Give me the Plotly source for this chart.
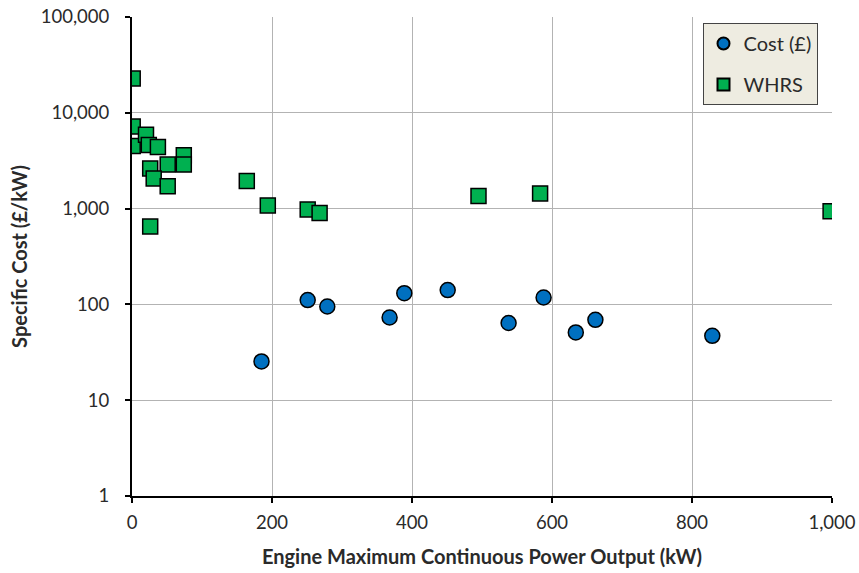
import plotly.graph_objects as go

# Cost (£) series
cost_x = [185, 251, 279, 368, 389, 451, 538, 588, 634, 662, 829]
cost_y = [25.4, 111, 95, 73, 131, 141, 64, 118, 51, 69, 47]

# WHRS series
whrs_x = [1, 1, 1, 20, 24, 37, 74, 74, 51, 26, 31, 51, 26, 164, 194, 251, 268, 495, 583, 998]
whrs_y = [22800, 7200, 4500, 5900, 4600, 4400, 3600, 2880, 2880, 2620, 2060, 1710, 650,
          1940, 1080, 980, 900, 1355, 1440, 940]

x_ticks = [0, 200, 400, 600, 800, 1000]
x_labels = ["0", "200", "400", "600", "800", "1,000"]
y_ticks = [1, 10, 100, 1000, 10000, 100000]
y_labels = ["1", "10", "100", "1,000", "10,000", "100,000"]

FONT = "Lato, 'Open Sans', sans-serif"
TXT = "#2a2a2a"

fig = go.Figure()
fig.add_trace(go.Scatter(
    x=cost_x, y=cost_y, mode="markers", name="Cost (£)", legendgroup="a",
    marker=dict(symbol="circle", size=15, color="#0070C0",
                line=dict(color="black", width=1.5)),
))
fig.add_trace(go.Scatter(
    x=whrs_x, y=whrs_y, mode="markers", name="WHRS", legendgroup="b",
    marker=dict(symbol="square", size=15, color="#00B050",
                line=dict(color="black", width=1.5)),
))

fig.update_layout(
    width=859, height=573,
    margin=dict(l=132, r=27, t=17, b=77, autoexpand=False),
    paper_bgcolor="white", plot_bgcolor="white",
    font=dict(family=FONT, size=18.5, color=TXT),
    showlegend=True,
    legend=dict(
        x=0.815, y=0.9875, xanchor="left", yanchor="top",
        bgcolor="#EEECE1", bordercolor="#444444", borderwidth=1,
        font=dict(family=FONT, size=20, color=TXT),
        itemsizing="constant", tracegroupgap=12,
    ),
    xaxis=dict(
        range=[0, 1000], tickvals=x_ticks, ticktext=x_labels,
        showgrid=True, gridcolor="#B3B3B3", gridwidth=1,
        showline=True, linecolor="black", linewidth=2,
        ticks="outside", ticklen=5, tickcolor="black", tickwidth=1.5,
        ticklabelstandoff=4, automargin=False,
        zeroline=False, mirror=False,
        title=dict(text="<b>Engine Maximum Continuous Power Output (kW)</b>",
                   font=dict(family=FONT, size=20, color=TXT), standoff=18),
    ),
    yaxis=dict(
        type="log", range=[0, 5], tickvals=y_ticks, ticktext=y_labels,
        showgrid=True, gridcolor="#B3B3B3", gridwidth=1,
        showline=True, linecolor="black", linewidth=2,
        ticks="outside", ticklen=5, tickcolor="black", tickwidth=1.5,
        ticklabelstandoff=12, automargin=False,
        zeroline=False,
        title=dict(text="<b>Specific Cost (£/kW)</b>",
                   font=dict(family=FONT, size=20, color=TXT), standoff=8),
    ),
)

fig.write_html("out.html")
